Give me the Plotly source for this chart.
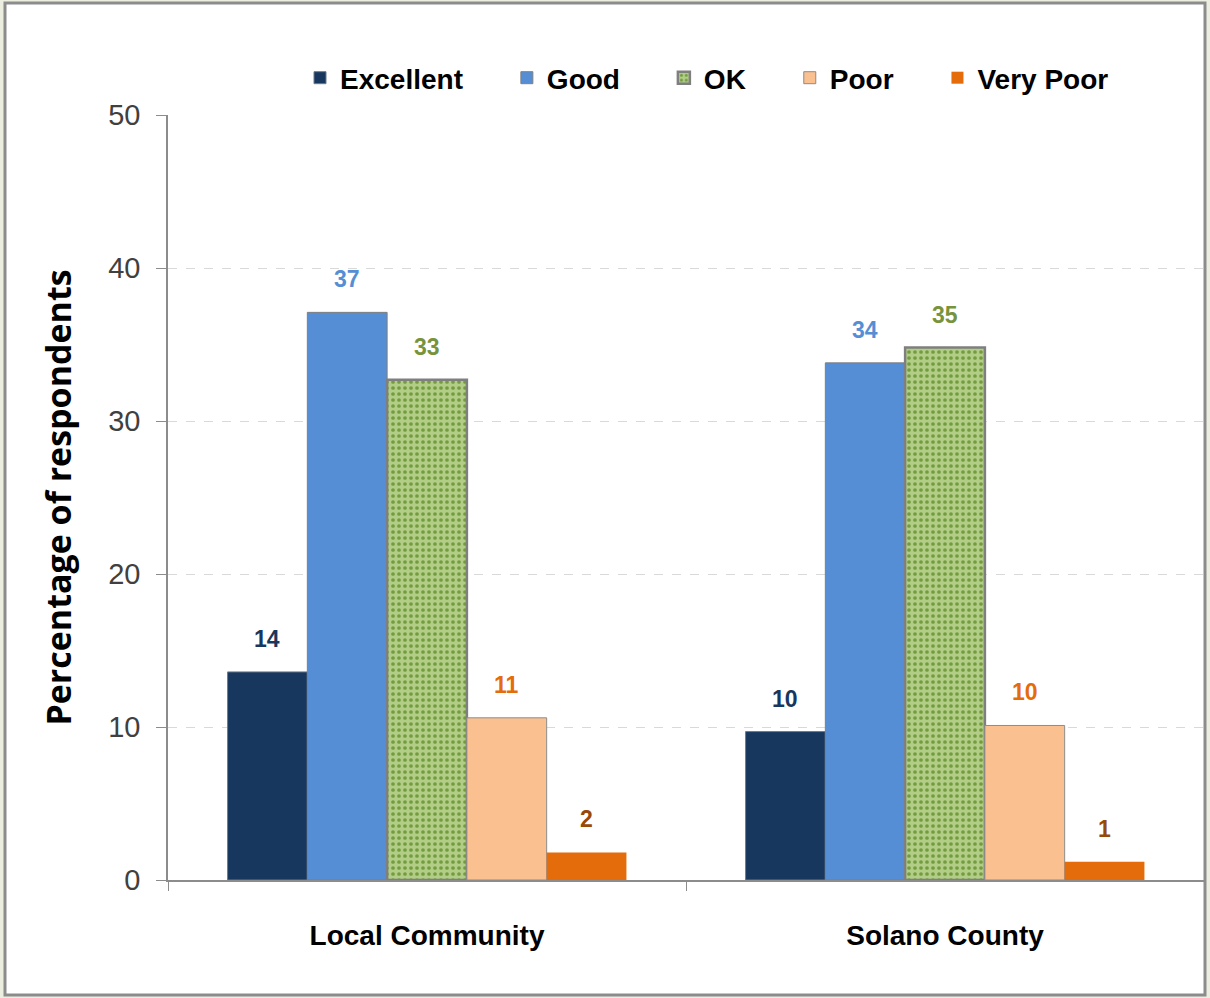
import plotly.graph_objects as go

categories = ["Local Community", "Solano County"]
series_names = ["Excellent", "Good", "OK", "Poor", "Very Poor"]
excellent = [13.6, 9.7]
good = [37.1, 33.8]
ok = [32.7, 34.8]
poor = [10.6, 10.1]
very_poor = [1.8, 1.2]
y_ticks = [0, 10, 20, 30, 40, 50]

series_values = [excellent, good, ok, poor, very_poor]
fill_colors = ["#17375e", "#558ed5", "#a5c474", "#fac090", "#e46c0a"]
label_colors = ["#17375e", "#558ed5", "#77933c", "#e46c0a", "#984807"]
line_colors = ["#6d7a8a", "#7f7f7f", "#7f7f7f", "#8c8c8c", "#e46c0a"]
line_widths = [1, 1, 2.5, 1, 0]

FONT = "Liberation Sans, Arial, sans-serif"
TITLE_FONT = "Open Sans, Liberation Sans, sans-serif"
bargap = 0.23
PAD = "\u00a0" * 5

W, H = 1210, 998
L, R, T, B = 168, 6, 115, 118
pw, ph = W - L - R, H - T - B

fig = go.Figure()
for i, (name, vals) in enumerate(zip(series_names, series_values)):
    marker = dict(color=fill_colors[i], line=dict(color=line_colors[i], width=line_widths[i]))
    if name == "OK":
        marker["pattern"] = dict(shape=".", fgcolor="#729c3e", bgcolor="#b1cd86",
                                 size=6, solidity=0.3, fillmode="replace")
    label = f"<b>{name}</b>" + (PAD if i < len(series_names) - 1 else "")
    fig.add_trace(go.Bar(name=label, x=categories, y=vals, marker=marker,
                         hovertemplate=name + ": %{y}<extra>%{x}</extra>"))

annotations = []
n = len(series_names)
w = (1 - bargap) / n
for i, vals in enumerate(series_values):
    for c, v in enumerate(vals):
        annotations.append(dict(
            x=c - (1 - bargap) / 2 + (i + 0.5) * w, y=v, xref="x", yref="y",
            text=f"<b>{v:.0f}</b>", showarrow=False, yshift=33, yanchor="middle",
            font=dict(family=FONT, size=23, color=label_colors[i]),
        ))

fig.update_layout(
    width=W, height=H,
    margin=dict(l=L, r=R, t=T, b=B),
    paper_bgcolor="#eceee0",
    plot_bgcolor="rgba(0,0,0,0)",
    barmode="group", bargap=bargap, bargroupgap=0,
    font=dict(family=FONT, color="#000000"),
    legend=dict(orientation="h", x=(300 - L) / pw, y=1 + (T - 78) / ph,
                xanchor="left", yanchor="middle",
                font=dict(family=FONT, size=28, color="#000000"),
                bgcolor="rgba(0,0,0,0)", traceorder="normal"),
    annotations=annotations,
    shapes=[dict(type="rect", xref="paper", yref="paper",
                 x0=(5 - L) / pw, x1=(1205 - L) / pw,
                 y0=-(995 - (H - B)) / ph, y1=1 + (T - 3) / ph,
                 fillcolor="#ffffff", line=dict(color="#8c8c8c", width=3), layer="below")],
    xaxis=dict(showline=True, linecolor="#8c8c8c", linewidth=1.5,
               ticks="outside", ticklen=9, tickcolor="#8c8c8c", tickson="boundaries",
               tickvals=categories, ticktext=[f"<b>{c}</b>" for c in categories],
               tickfont=dict(family=FONT, size=28, color="#000000"),
               ticklabelstandoff=30, showgrid=False),
    yaxis=dict(range=[0, 50], tickvals=y_ticks, showline=True, linecolor="#8c8c8c", linewidth=1.5,
               ticks="outside", ticklen=10, tickcolor="#8c8c8c", ticklabelstandoff=10,
               tickfont=dict(family=FONT, size=29, color="#404040"),
               showgrid=True, gridcolor="#d9d9d9", griddash="dash", gridwidth=1,
               zeroline=False,
               title=dict(text="<b>Percentage of respondents</b>",
                          font=dict(family=TITLE_FONT, size=34, color="#000000"), standoff=26)),
)

fig.write_html("out.html", config={"displayModeBar": False},
               post_script="document.body.style.margin='0';document.body.style.background='#eceee0';")
